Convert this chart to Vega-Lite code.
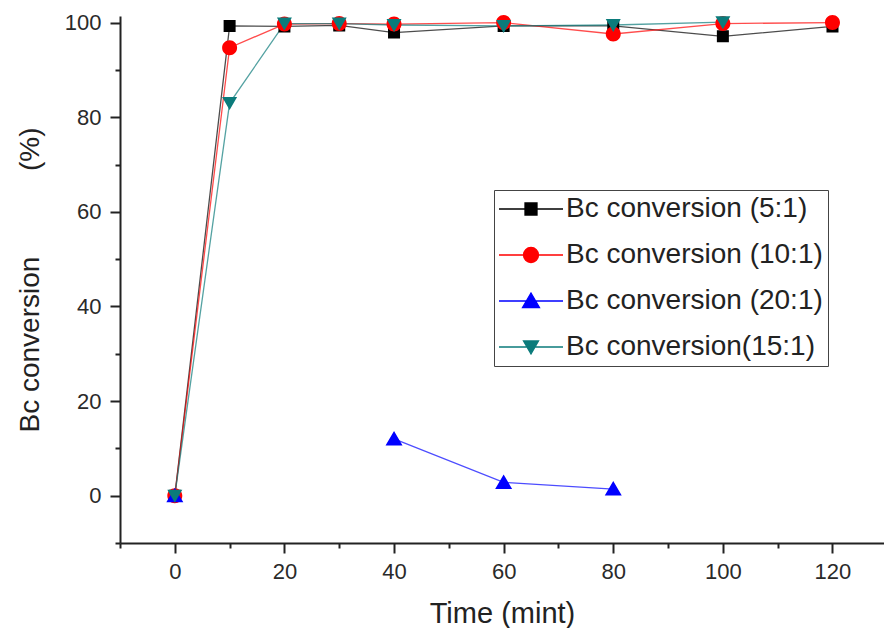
{
  "$schema": "https://vega.github.io/schema/vega-lite/v6.json",
  "width": 764,
  "height": 527,
  "autosize": {"type": "none"},
  "padding": {"left": 120, "top": 16, "right": 0, "bottom": 85},
  "background": "white",
  "config": {
    "view": {"stroke": null},
    "font": "Liberation Sans",
    "axis": {
      "grid": false,
      "domainColor": "#222",
      "domainWidth": 2,
      "tickColor": "#222",
      "tickWidth": 2,
      "labelColor": "#2a2a2a",
      "labelFont": "Liberation Sans",
      "labelFontSize": 22,
      "titleFont": "Liberation Sans",
      "titleFontSize": 28,
      "titleFontWeight": "normal",
      "titleColor": "#222"
    }
  },
  "data": {
    "values": [
      {"series": "Bc conversion (5:1)", "time": 0, "conv": 0},
      {"series": "Bc conversion (5:1)", "time": 10, "conv": 99.3},
      {"series": "Bc conversion (5:1)", "time": 20, "conv": 99.2},
      {"series": "Bc conversion (5:1)", "time": 30, "conv": 99.4},
      {"series": "Bc conversion (5:1)", "time": 40, "conv": 97.9},
      {"series": "Bc conversion (5:1)", "time": 60, "conv": 99.3},
      {"series": "Bc conversion (5:1)", "time": 80, "conv": 99.3},
      {"series": "Bc conversion (5:1)", "time": 100, "conv": 97.1},
      {"series": "Bc conversion (5:1)", "time": 120, "conv": 99.2},
      {"series": "Bc conversion (10:1)", "time": 0, "conv": 0},
      {"series": "Bc conversion (10:1)", "time": 10, "conv": 94.7},
      {"series": "Bc conversion (10:1)", "time": 20, "conv": 99.7},
      {"series": "Bc conversion (10:1)", "time": 30, "conv": 99.8},
      {"series": "Bc conversion (10:1)", "time": 40, "conv": 99.7},
      {"series": "Bc conversion (10:1)", "time": 60, "conv": 100},
      {"series": "Bc conversion (10:1)", "time": 80, "conv": 97.6},
      {"series": "Bc conversion (10:1)", "time": 100, "conv": 99.8},
      {"series": "Bc conversion (10:1)", "time": 120, "conv": 100},
      {"series": "Bc conversion (20:1)", "time": 0, "conv": 0},
      {"series": "Bc conversion (20:1)", "time": 10, "conv": null},
      {"series": "Bc conversion (20:1)", "time": 20, "conv": null},
      {"series": "Bc conversion (20:1)", "time": 30, "conv": null},
      {"series": "Bc conversion (20:1)", "time": 40, "conv": 12.0},
      {"series": "Bc conversion (20:1)", "time": 60, "conv": 2.8},
      {"series": "Bc conversion (20:1)", "time": 80, "conv": 1.4},
      {"series": "Bc conversion(15:1)", "time": 0, "conv": 0},
      {"series": "Bc conversion(15:1)", "time": 10, "conv": 83.0},
      {"series": "Bc conversion(15:1)", "time": 20, "conv": 99.8},
      {"series": "Bc conversion(15:1)", "time": 30, "conv": 99.8},
      {"series": "Bc conversion(15:1)", "time": 40, "conv": 99.5},
      {"series": "Bc conversion(15:1)", "time": 60, "conv": 99.3},
      {"series": "Bc conversion(15:1)", "time": 80, "conv": 99.5},
      {"series": "Bc conversion(15:1)", "time": 100, "conv": 100.1}
    ]
  },
  "encoding": {
    "x": {
      "field": "time",
      "type": "quantitative",
      "scale": {"domain": [-10, 129.4], "nice": false, "zero": false},
      "axis": {
        "title": "Time (mint)",
        "titleFontSize": 29,
        "values": [-10, 0, 10, 20, 30, 40, 50, 60, 70, 80, 90, 100, 110, 120],
        "labelExpr": "datum.value % 20 === 0 ? datum.label : ''",
        "tickSize": {"condition": {"test": "datum.value % 20 === 0", "value": 10}, "value": 5},
        "labelPadding": 8,
        "titlePadding": 17,
        "labelFlush": false,
        "labelOverlap": false
      }
    },
    "y": {
      "field": "conv",
      "type": "quantitative",
      "scale": {"domain": [-10, 101.4], "nice": false, "zero": false},
      "axis": {
        "title": "Bc conversion\u00a0\u00a0\u00a0\u00a0\u00a0\u00a0\u00a0\u00a0\u00a0\u00a0\u00a0(%)",
        "values": [-10, 0, 10, 20, 30, 40, 50, 60, 70, 80, 90, 100],
        "labelExpr": "datum.value % 20 === 0 ? datum.label : ''",
        "tickSize": {"condition": {"test": "datum.value % 20 === 0", "value": 10}, "value": 5},
        "labelPadding": 9,
        "titlePadding": 20,
        "labelFlush": false,
        "labelOverlap": false
      }
    },
    "color": {
      "field": "series",
      "type": "nominal",
      "scale": {
        "domain": ["Bc conversion (5:1)", "Bc conversion (10:1)", "Bc conversion (20:1)", "Bc conversion(15:1)"],
        "range": ["#000000", "#ff0000", "#0000ff", "#0b7b7b"]
      },
      "legend": {
        "title": null,
        "orient": "none",
        "legendX": 374,
        "legendY": 174,
        "direction": "vertical",
        "padding": 5,
        "strokeColor": "#444",
        "fillColor": "white",
        "labelFont": "Liberation Sans",
        "labelFontSize": 28,
        "labelColor": "#222",
        "labelLimit": 400,
        "rowPadding": 18,
        "symbolSize": 400,
        "symbolStrokeWidth": 1.3,
        "symbolOpacity": 1,
        "symbolOffset": 18,
        "labelOffset": 21
      }
    }
  },
  "layer": [
    {
      "mark": {"type": "line", "strokeWidth": 1.3, "opacity": 0.7, "invalid": "break-paths-filter-domains"},
      "encoding": {}
    },
    {
      "mark": {"type": "point", "filled": true, "opacity": 1, "size": 400},
      "encoding": {
        "shape": {
          "field": "series",
          "type": "nominal",
          "scale": {
            "domain": ["Bc conversion (5:1)", "Bc conversion (10:1)", "Bc conversion (20:1)", "Bc conversion(15:1)"],
            "range": [
              "M-3.2,0H3.2M-0.6,-0.6H0.6V0.6H-0.6Z",
              "M-3.2,0H3.2M0.75,0A0.75,0.75,0,1,1,-0.75,0A0.75,0.75,0,1,1,0.75,0Z",
              "M-3.2,0H3.2M0,-0.8L0.85,0.65H-0.85Z",
              "M-3.2,0H3.2M0,0.7L0.75,-0.6H-0.75Z"
            ]
          }
        }
      }
    }
  ]
}
